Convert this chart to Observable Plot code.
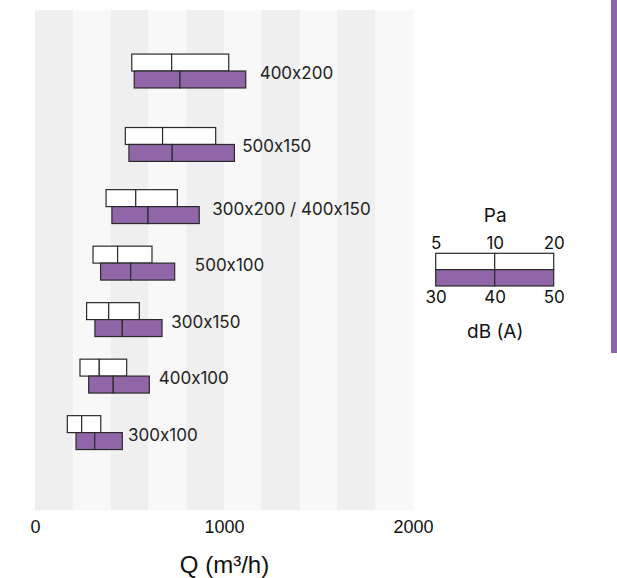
<!DOCTYPE html>
<html>
<head>
<meta charset="utf-8">
<script src="https://cdn.jsdelivr.net/npm/d3@7"></script>
<script src="https://cdn.jsdelivr.net/npm/@observablehq/plot@0.6"></script>
<style>
  html, body { margin: 0; padding: 0; background: #fff; }
  #wrap { position: relative; width: 617px; height: 578px; overflow: hidden; }
  #main { position: absolute; left: 0; top: 0; }
  #legend { position: absolute; left: 400px; top: 190px; }
  #accent { position: absolute; left: 611px; top: 0; width: 6px; height: 353px; background: #9166a8; }
  svg text { font-feature-settings: "calt" 0; }
</style>
</head>
<body>
<div id="wrap">
  <div id="main"></div>
  <div id="legend"></div>
  <div id="accent"></div>
</div>
<script>
// ---- data ----
const sizes = ["400x200", "500x150", "300x200 / 400x150", "500x100", "300x150", "400x100", "300x100"];
const rowLevel = [7.4, 6.1, 5, 4, 3, 2, 1];
// Q (m3/h) at pressure drop 5, 10, 20 Pa
const q5Pa  = [512, 478, 376, 307, 273, 238, 171];
const q10Pa = [723, 675, 533, 437, 390, 340, 247];
const q20Pa = [1025, 956, 753, 619, 552, 485, 348];
// Q (m3/h) at noise level 30, 40, 50 dB(A)
const q30dB = [525, 497, 407, 347, 317, 284, 217];
const q40dB = [767, 726, 598, 506, 462, 414, 316];
const q50dB = [1115, 1055, 869, 739, 672, 605, 462];
// label anchor Q
const labelQ = [1186, 1094, 935, 843, 718, 652, 490];
const xTicks = [0, 1000, 2000];
const stripeStarts = [0, 400, 800, 1200, 1600];
const stripeWidth = 200;
const xLabel = "Q (m³/h)";
const paTicks = [5, 10, 20];
const dbTicks = [30, 40, 50];
const paTitle = "Pa";
const dbTitle = "dB (A)";

const PURPLE = "#9166a8";
const STROKE = "#2a2a2a";
const half = 0.3;

const whiteSegs = [], purpleSegs = [];
sizes.forEach((s, i) => {
  whiteSegs.push({x1: q5Pa[i], x2: q10Pa[i], y1: rowLevel[i], y2: rowLevel[i] + half});
  whiteSegs.push({x1: q10Pa[i], x2: q20Pa[i], y1: rowLevel[i], y2: rowLevel[i] + half});
  purpleSegs.push({x1: q30dB[i], x2: q40dB[i], y1: rowLevel[i] - half, y2: rowLevel[i]});
  purpleSegs.push({x1: q40dB[i], x2: q50dB[i], y1: rowLevel[i] - half, y2: rowLevel[i]});
});
const labels = sizes.map((s, i) => ({label: s, x: labelQ[i], y: rowLevel[i]}));
const stripes = stripeStarts.map(s => ({x1: s, x2: s + stripeWidth}));

const main = Plot.plot({
  width: 617,
  height: 578,
  marginLeft: 35,
  marginRight: 204,
  marginTop: 10,
  marginBottom: 68,
  style: {fontFamily: "'Liberation Sans', Arial, sans-serif", background: "#fff"},
  x: {domain: [0, 2000], axis: null},
  y: {domain: [-0.37, 8.48], axis: null},
  marks: [
    Plot.frame({fill: "#f8f8f8", stroke: null}),
    Plot.rect(stripes, {x1: "x1", x2: "x2", fill: "#efefef"}),
    Plot.rect(whiteSegs, {x1: "x1", x2: "x2", y1: "y1", y2: "y2", fill: "#fff", stroke: STROKE, strokeWidth: 1.2}),
    Plot.rect(purpleSegs, {x1: "x1", x2: "x2", y1: "y1", y2: "y2", fill: PURPLE, stroke: STROKE, strokeWidth: 1.2}),
    Plot.text(labels, {x: "x", y: "y", text: "label", textAnchor: "start", dy: 2, fontSize: 17, fill: "#222", fontFamily: "Inter, 'Liberation Sans', sans-serif"}),
    Plot.axisX(xTicks, {anchor: "bottom", tickSize: 0, tickPadding: 10, fontSize: 18, label: null, color: "#111", tickFormat: d => String(d)}),
    Plot.text([xLabel], {frameAnchor: "bottom", lineAnchor: "middle", dy: 55, fontSize: 24, fill: "#111"})
  ]
});
document.getElementById("main").appendChild(main);

// ---- legend ----
const legWhite = paTicks.slice(0, -1).map((d, i) => ({x1: i, x2: i + 1}));
const legPurple = dbTicks.slice(0, -1).map((d, i) => ({x1: i, x2: i + 1}));
const legend = Plot.plot({
  width: 200,
  height: 160,
  marginLeft: 35.7,
  marginRight: 46.3,
  marginTop: 63.3,
  marginBottom: 64,
  style: {fontFamily: "Inter, 'Liberation Sans', sans-serif", background: "transparent"},
  x: {domain: [0, paTicks.length - 1], axis: null},
  y: {domain: [-1, 1], axis: null},
  marks: [
    Plot.rect(legWhite, {x1: "x1", x2: "x2", y1: 0, y2: 1, fill: "#fff", stroke: STROKE, strokeWidth: 1.2}),
    Plot.rect(legPurple, {x1: "x1", x2: "x2", y1: -1, y2: 0, fill: PURPLE, stroke: STROKE, strokeWidth: 1.2}),
    Plot.text(paTicks, {x: (d, i) => i, text: d => String(d), frameAnchor: "top", lineAnchor: "middle", dy: -10, fontSize: 17, fill: "#111"}),
    Plot.text(dbTicks, {x: (d, i) => i, text: d => String(d), frameAnchor: "bottom", lineAnchor: "middle", dy: 11.5, fontSize: 17, fill: "#111"}),
    Plot.text([paTitle], {x: (paTicks.length - 1) / 2, frameAnchor: "top", lineAnchor: "middle", dy: -38, fontSize: 19, fill: "#111"}),
    Plot.text([dbTitle], {x: (dbTicks.length - 1) / 2, frameAnchor: "bottom", lineAnchor: "middle", dy: 45.7, fontSize: 19, fill: "#111"})
  ]
});
document.getElementById("legend").appendChild(legend);
</script>
</body>
</html>
